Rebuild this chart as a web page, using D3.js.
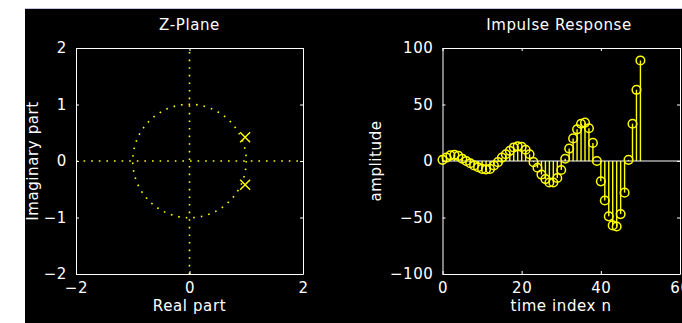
<!DOCTYPE html>
<html>
<head>
<meta charset="utf-8">
<script src="https://cdn.jsdelivr.net/npm/d3@7"></script>
<style>
  body { margin: 0; background: #fff; }
  svg { display: block; }
  text { font-family: "DejaVu Sans", sans-serif; }
</style>
</head>
<body>
<svg id="chart" width="682" height="323"></svg>
<script>
// Z-plane: poles of the system
var poleRe = [0.98, 0.98];
var poleIm = [0.42, -0.42];
var zTicksX = [-2, 0, 2];
var zTicksY = [-2, -1, 0, 1, 2];

// impulse response h[n], n = 0..50
var impulse = [1, 3, 5, 5.5, 4.5, 2, 0, -2, -4, -5.5,
               -7, -7.5, -7, -4, -1, 3, 6, 9, 12, 13,
               12.5, 10, 6, -1, -6, -12, -16, -19, -19, -15,
               -8, 2, 11, 20, 28, 33, 34, 29, 16, 0,
               -18, -35, -49, -57, -58, -47, -28, 1, 33, 63,
               89];
var nTicks = [0, 20, 40, 60];
var hTicks = [-100, -50, 0, 50, 100];

var YELLOW = '#ffff00';
var fmt = d3.format('d');
var svg = d3.select('#chart');

// page frame: white strip top/left, black figure
svg.append('rect').attr('width', 682).attr('height', 323).attr('fill', '#fff');
svg.append('rect').attr('x', 25).attr('y', 8).attr('width', 657).attr('height', 315).attr('fill', '#000');
svg.append('line').attr('x1', 25).attr('x2', 682).attr('y1', 8.5).attr('y2', 8.5)
    .attr('stroke', '#c4c4e4').attr('stroke-width', 1);

function styleText(sel){
    sel.attr('font-family', '"DejaVu Sans", sans-serif')
       .attr('font-size', '15px')
       .attr('letter-spacing', '0.6px')
       .attr('fill', '#fff');
    return sel;
}

// draws a matlab style box with inward ticks on all four sides
function drawBox(g, x, y, xt, yt){
    var x0 = x.range()[0], x1 = x.range()[1];
    var y0 = y.range()[0], y1 = y.range()[1];

    var bottom = g.append('g').attr('transform', 'translate(0,' + y0 + ')')
        .call(d3.axisBottom(x).tickValues(xt).tickFormat(fmt).tickSizeInner(-3).tickSizeOuter(0).tickPadding(8));
    var top = g.append('g').attr('transform', 'translate(0,' + y1 + ')')
        .call(d3.axisTop(x).tickValues(xt).tickSizeInner(-3).tickSizeOuter(0).tickFormat(''));
    var left = g.append('g').attr('transform', 'translate(' + x0 + ',0)')
        .call(d3.axisLeft(y).tickValues(yt).tickFormat(fmt).tickSizeInner(-3).tickSizeOuter(0).tickPadding(9));
    var right = g.append('g').attr('transform', 'translate(' + x1 + ',0)')
        .call(d3.axisRight(y).tickValues(yt).tickSizeInner(-3).tickSizeOuter(0).tickFormat(''));

    [bottom, top, left, right].forEach(function(a){
        a.select('.domain').attr('stroke', '#fff');
        a.selectAll('.tick line').attr('stroke', '#fff');
        styleText(a.selectAll('.tick text'));
    });
}

// ---------- Z-plane ----------
var zx = d3.scaleLinear().domain([-2, 2]).range([76, 303]);
var zy = d3.scaleLinear().domain([-2, 2]).range([274, 48]);
var gz = svg.append('g');

gz.append('line')
    .attr('x1', zx(-2)).attr('x2', zx(2)).attr('y1', zy(0)).attr('y2', zy(0))
    .attr('stroke', YELLOW).attr('stroke-width', 1.6).attr('stroke-dasharray', '1.6,6');
gz.append('line')
    .attr('x1', zx(0)).attr('x2', zx(0)).attr('y1', zy(-2)).attr('y2', zy(2))
    .attr('stroke', YELLOW).attr('stroke-width', 1.6).attr('stroke-dasharray', '1.6,6');
gz.append('circle')
    .attr('cx', zx(0)).attr('cy', zy(0)).attr('r', zx(1) - zx(0))
    .attr('fill', 'none')
    .attr('stroke', YELLOW).attr('stroke-width', 1.6).attr('stroke-dasharray', '1.6,6');

drawBox(gz, zx, zy, zTicksX, zTicksY);

gz.selectAll('path.pole')
    .data(d3.range(poleRe.length))
    .enter().append('path')
        .attr('class', 'pole')
        .attr('transform', function(i){ return 'translate(' + zx(poleRe[i]) + ',' + zy(poleIm[i]) + ')'; })
        .attr('d', d3.symbol(d3.symbolTimes, 67))
        .attr('fill', 'none')
        .attr('stroke', YELLOW)
        .attr('stroke-width', 1.4);

styleText(gz.append('text')).attr('x', zx(0)).attr('y', 30).attr('text-anchor', 'middle').text('Z-Plane');
styleText(gz.append('text')).attr('x', zx(0)).attr('y', 311).attr('text-anchor', 'middle').text('Real part');
styleText(gz.append('text')).attr('transform', 'translate(38,' + zy(0) + ') rotate(-90)')
    .attr('text-anchor', 'middle').text('Imaginary part');

// ---------- Impulse response ----------
var hx = d3.scaleLinear().domain([0, 60]).range([442.5, 680]);
var hy = d3.scaleLinear().domain([-100, 100]).range([274, 48]);
var gh = svg.append('g');

drawBox(gh, hx, hy, nTicks, hTicks);

gh.selectAll('line.stem')
    .data(impulse)
    .enter().append('line')
        .attr('class', 'stem')
        .attr('x1', function(d, i){ return hx(i); })
        .attr('x2', function(d, i){ return hx(i); })
        .attr('y1', hy(0))
        .attr('y2', function(d){ return hy(d); })
        .attr('stroke', YELLOW)
        .attr('stroke-width', 1.4);

gh.append('line')
    .attr('x1', hx(0)).attr('x2', hx(60)).attr('y1', hy(0)).attr('y2', hy(0))
    .attr('stroke', '#fff').attr('stroke-width', 1.2);

gh.selectAll('circle.mark')
    .data(impulse)
    .enter().append('circle')
        .attr('class', 'mark')
        .attr('cx', function(d, i){ return hx(i); })
        .attr('cy', function(d){ return hy(d); })
        .attr('r', 4.3)
        .attr('fill', 'none')
        .attr('stroke', YELLOW)
        .attr('stroke-width', 1.5);

styleText(gh.append('text')).attr('x', 559).attr('y', 30).attr('text-anchor', 'middle').text('Impulse Response');
styleText(gh.append('text')).attr('x', 561).attr('y', 311).attr('text-anchor', 'middle').text('time index n');
styleText(gh.append('text')).attr('transform', 'translate(381,' + hy(0) + ') rotate(-90)')
    .attr('text-anchor', 'middle').text('amplitude');
</script>
</body>
</html>
